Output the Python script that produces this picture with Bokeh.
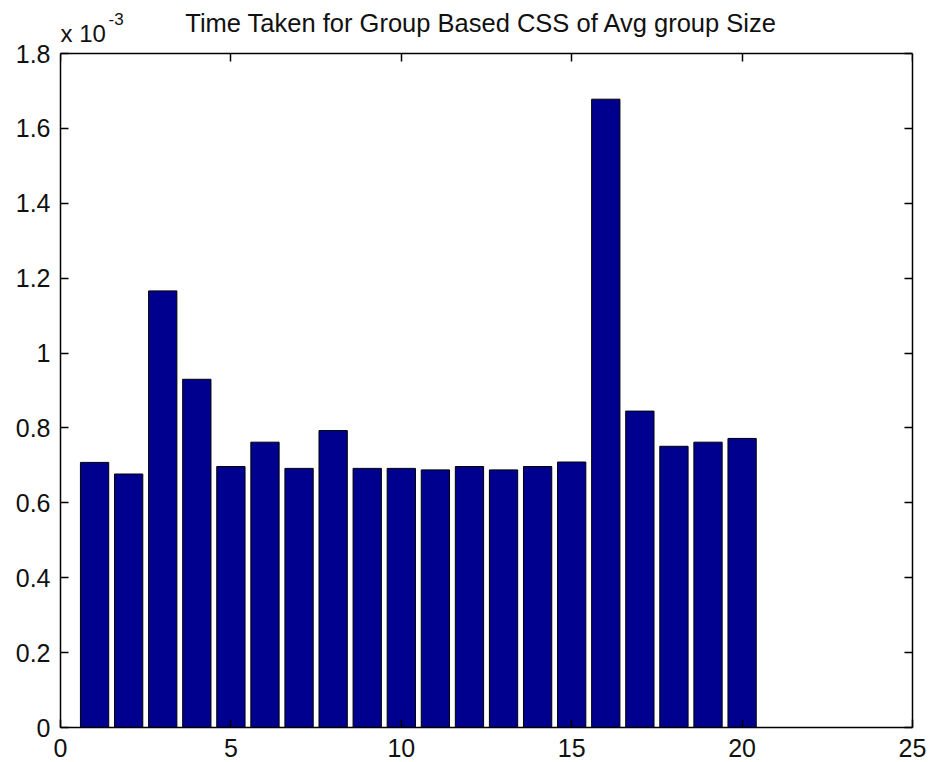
from bokeh.plotting import figure
from bokeh.models import (Range1d, FixedTicker, LinearAxis, Label,
                          CustomJSTickFormatter, ColumnDataSource)
from bokeh.embed import file_html
from bokeh.resources import INLINE

# Average group size index and measured time (in units of 1e-3 s)
group_index = list(range(1, 21))
time_e3 = [0.708, 0.677, 1.166, 0.930, 0.697, 0.762, 0.692, 0.793, 0.692, 0.692,
           0.688, 0.697, 0.688, 0.697, 0.709, 1.678, 0.845, 0.751, 0.762, 0.772]

x_ticks = [0, 5, 10, 15, 20, 25]
y_ticks = [0, 0.2, 0.4, 0.6, 0.8, 1.0, 1.2, 1.4, 1.6, 1.8]

title_text = "Time Taken for Group Based CSS of Avg group Size"
FONT = "Liberation Sans"
TEXT = "#111111"
BAR_BLUE = "#00008F"

X_MAX, Y_MAX = 25, 1.8
BOX_H = 674      # height of the axes box in px
HEAD = 53        # room above the box for the title
# the frame reaches the top of the canvas; the axes box stops at Y_MAX
y_end = Y_MAX * (BOX_H + HEAD) / BOX_H

p = figure(width=933, height=762, output_backend="svg", toolbar_location=None,
           title=None,
           x_range=Range1d(0, X_MAX), y_range=Range1d(0, y_end),
           min_border_left=60, min_border_right=21,
           min_border_top=0, min_border_bottom=35)
p.background_fill_color = "white"
p.border_fill_color = "white"
p.xgrid.visible = False
p.ygrid.visible = False
p.outline_line_color = None

src = ColumnDataSource(dict(x=group_index, top=time_e3))
p.vbar(x="x", top="top", bottom=0, width=0.83, source=src,
       fill_color=BAR_BLUE, line_color="black", line_width=1)

fmt = CustomJSTickFormatter(code="return tick.toFixed(1).replace(/\\.0$/, '');")


def style_axis(ax, ticks, bounds, show_labels=True, standoff=10):
    ax.ticker = FixedTicker(ticks=ticks)
    ax.bounds = bounds
    ax.axis_line_color = "black"
    ax.axis_line_width = 1.5
    ax.major_tick_in = 8
    ax.major_tick_out = 0
    ax.major_tick_line_color = "black"
    ax.major_tick_line_width = 1.5
    ax.minor_tick_line_color = None
    ax.major_label_standoff = standoff
    if show_labels:
        ax.major_label_text_font = FONT
        ax.major_label_text_font_size = "25px"
        ax.major_label_text_color = TEXT
    else:
        ax.major_label_text_font_size = "0px"
        ax.major_label_text_color = None
        ax.major_label_standoff = 0


style_axis(p.xaxis[0], x_ticks, (0, X_MAX), standoff=11)
style_axis(p.yaxis[0], y_ticks, (0, Y_MAX), standoff=10)
p.yaxis[0].formatter = fmt

right_axis = LinearAxis()
style_axis(right_axis, y_ticks, (0, Y_MAX), show_labels=False)
p.add_layout(right_axis, "right")

# top edge of the box, with inward ticks, pinned at Y_MAX
top_axis = LinearAxis(fixed_location=Y_MAX)
style_axis(top_axis, x_ticks, (0, X_MAX), show_labels=False)
p.add_layout(top_axis, "above")

# Title and exponent marker; screen units count from the frame's bottom-left
FRAME_H = BOX_H + HEAD
p.add_layout(Label(x=421, y=FRAME_H - 22, x_units="screen", y_units="screen",
                   text=title_text,
                   text_font=FONT, text_font_size="25.5px", text_color=TEXT,
                   text_align="center", text_baseline="alphabetic"))
p.add_layout(Label(x=0, y=FRAME_H - 33, x_units="screen", y_units="screen",
                   text="x 10",
                   text_font=FONT, text_font_size="24px", text_color=TEXT,
                   text_align="left", text_baseline="alphabetic"))
p.add_layout(Label(x=48, y=FRAME_H - 18, x_units="screen", y_units="screen",
                   text="-3",
                   text_font=FONT, text_font_size="17px", text_color=TEXT,
                   text_align="left", text_baseline="alphabetic"))

open("out.html", "w").write(file_html(p, INLINE))
